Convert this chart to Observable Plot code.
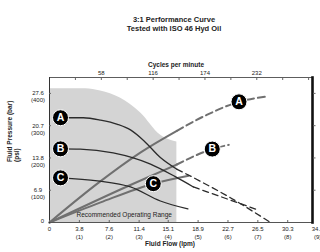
<!DOCTYPE html>
<html><head><meta charset="utf-8">
<script src="https://cdn.jsdelivr.net/npm/d3@7"></script>
<script src="https://cdn.jsdelivr.net/npm/@observablehq/plot@0.6"></script>
<style>body{margin:0;background:#fff}</style>
</head><body><div id="chart"></div>
<script>
// ---- data (flow in lpm, pressure in bar) ----
const flowTicks = [0, 3.8, 7.6, 11.4, 15.1, 18.9, 22.7, 26.5, 30.3, 34.1];
const gpmLabels = ["", "(1)", "(2)", "(3)", "(4)", "(5)", "(6)", "(7)", "(8)", "(9)"];
const barTicks = [6.9, 13.8, 20.7, 27.6];
const psiLabels = ["(100)", "(200)", "(300)", "(400)"];
const cpmTicks = [29, 58, 87, 116, 145, 174, 203, 232, 261, 290];
const cpmLabelTicks = [58, 116, 174, 232];
const cpmPerLpm = 8.8;
const flowMax = 33.45, barMax = 31;

// recommended operating range (upper boundary)
const rangeFlow = [0, 4.6, 6.5, 9.0, 11.6, 14.1, 15.4, 16.2];
const rangeBar  = [28.6, 28.6, 28.1, 26.6, 23.4, 18.7, 17.6, 17.2];
const rangeEdge = 16.2;

// pressure curves (black)
const aPresFlow = [1.4, 4.3, 6.5, 8.65, 10.3, 12.0, 14.1, 16.2];
const aPresBar  = [22.4, 22.4, 21.9, 21.0, 19.8, 17.5, 13.9, 11.4];
const aPresDashFlow = [16.2, 19.2, 23.0, 28.1];
const aPresDashBar  = [11.4, 8.8, 5.3, 0];
const bPresFlow = [1.4, 3.9, 8.1, 12.85, 16.0, 18.3];
const bPresBar  = [15.75, 15.7, 14.9, 12.5, 9.8, 7.6];
const bPresDashFlow = [18.3, 26.5];
const bPresDashBar  = [7.6, 2.7];
const cPresFlow = [1.4, 6.1, 10.3, 14.1, 17.6];
const cPresBar  = [9.55, 8.9, 7.6, 4.6, 2.9];

// grey lines from origin
const aGreyFlow = [0, 6, 11.6, 16.2];
const aGreyBar  = [0, 8.2, 15.0, 19.6];
const aGreyDashFlow = [16.2, 20, 24.1, 27.5];
const aGreyDashBar  = [19.6, 23.0, 25.8, 26.9];
const bGreyFlow = [0, 10, 16.2];
const bGreyBar  = [0, 7.8, 12.4];
const bGreyDashFlow = [16.2, 20.7, 22.8];
const bGreyDashBar  = [12.4, 15.7, 16.6];
const cGreyFlow = [0, 6.5, 13.2, 17.7];
const cGreyBar  = [0, 4.3, 8.3, 10.0];

// badges
const badgeLetters = ["A", "B", "C", "A", "B", "C"];
const badgeFlow = [1.4, 1.4, 1.4, 24.1, 20.7, 13.2];
const badgeBar  = [22.4, 15.75, 9.55, 25.8, 15.7, 8.3];

const zip = (xs, ys) => xs.map((x, i) => ({x, y: ys[i]}));
const range = zip(rangeFlow, rangeBar);
const badges = badgeLetters.map((l, i) => ({l, x: badgeFlow[i], y: badgeBar[i]}));
const flowIn = flowTicks.filter(d => d <= flowMax);

const dark = "#2b2b2b", grey = "#707070";
const lineOpts = (stroke, w, dash) => ({x: "x", y: "y", stroke, strokeWidth: w, strokeDasharray: dash, curve: "monotone-x"});

const chart = Plot.plot({
  width: 320, height: 252,
  marginTop: 77, marginBottom: 30, marginLeft: 49, marginRight: 8,
  x: {domain: [0, flowMax], axis: null},
  y: {domain: [0, barMax], axis: null},
  style: {fontFamily: "'Liberation Sans', Arial, sans-serif", fontSize: "6px", background: "#fff", color: "#222"},
  marks: [
    Plot.areaY(range, {x: "x", y: "y", fill: "#d4d4d4", curve: "monotone-x"}),
    Plot.text(["Recommended Operating Range"], {x: () => rangeEdge, frameAnchor: "bottom", textAnchor: "end", dx: -5, dy: -5.5, fontSize: 6.5, fill: "#222"}),
    // grey lines
    Plot.line(zip(aGreyFlow, aGreyBar), lineOpts(grey, 2)),
    Plot.line(zip(bGreyFlow, bGreyBar), lineOpts(grey, 2)),
    Plot.line(zip(cGreyFlow, cGreyBar), lineOpts(grey, 2)),
    Plot.line(zip(aGreyDashFlow, aGreyDashBar), lineOpts(grey, 2, "7,4")),
    Plot.line(zip(bGreyDashFlow, bGreyDashBar), lineOpts(grey, 2, "7,4")),
    // pressure curves
    Plot.line(zip(aPresFlow, aPresBar), lineOpts(dark, 1.3)),
    Plot.line(zip(bPresFlow, bPresBar), lineOpts(dark, 1.3)),
    Plot.line(zip(cPresFlow, cPresBar), lineOpts(dark, 1.3)),
    Plot.line(zip(aPresDashFlow, aPresDashBar), lineOpts(dark, 1.3, "6,4")),
    Plot.line(zip(bPresDashFlow, bPresDashBar), lineOpts(dark, 1.3, "6,4")),
    // frame
    Plot.frame({anchor: "top", stroke: "#333", strokeWidth: 0.8}),
    Plot.frame({anchor: "bottom", stroke: "#555", strokeWidth: 1}),
    Plot.frame({anchor: "left", stroke: "#333", strokeWidth: 1}),
    Plot.frame({anchor: "right", stroke: "#111", strokeWidth: 2.6}),
    Plot.axisX({anchor: "bottom", ticks: flowIn, tickSize: -2, tickFormat: () => "", label: null, stroke: "#666"}),
    Plot.axisY({anchor: "left", ticks: barTicks, tickSize: -2, tickFormat: () => "", label: null, stroke: "#666"}),
    Plot.axisY({anchor: "right", ticks: barTicks, tickSize: 2.5, tickFormat: () => "", label: null, stroke: "#666"}),
    Plot.axisX({anchor: "top", ticks: cpmTicks.map(d => d / cpmPerLpm), tickSize: -2, tickFormat: () => "", label: null, stroke: "#666"}),
    // tick labels
    Plot.text(flowTicks, {x: d => d, frameAnchor: "bottom", dy: 8.5, text: d => String(d), textAnchor: "middle"}),
    Plot.text(flowTicks, {x: d => d, frameAnchor: "bottom", dy: 16.5, text: (d, i) => gpmLabels[i], textAnchor: "middle"}),
    Plot.text(barTicks, {y: d => d, frameAnchor: "left", dx: -11.5, text: d => d.toFixed(1), textAnchor: "middle"}),
    Plot.text(barTicks, {y: d => d, frameAnchor: "left", dx: -11.5, dy: 7, text: (d, i) => psiLabels[i], textAnchor: "middle"}),
    Plot.text(["0"], {frameAnchor: "bottom-left", dx: -7, textAnchor: "middle"}),
    Plot.text(cpmLabelTicks, {x: d => d / cpmPerLpm, frameAnchor: "top", dy: -7, text: d => String(d), textAnchor: "middle"}),
    // titles
    Plot.text(["3:1 Performance Curve"], {frameAnchor: "top", dx: -7, dy: -61, fontSize: 7.5, fontWeight: "bold", fill: "#222"}),
    Plot.text(["Tested with ISO 46 Hyd Oil"], {frameAnchor: "top", dx: -7, dy: -52, fontSize: 7.5, fontWeight: "bold", fill: "#222"}),
    Plot.text(["Cycles per minute"], {frameAnchor: "top", dx: -5, dy: -15, fontSize: 6.5, fontWeight: "bold", fill: "#222"}),
    Plot.text(["Fluid Flow (lpm)"], {frameAnchor: "bottom", dx: -11, dy: 23, fontSize: 6.5, fontWeight: "bold", fill: "#222"}),
    Plot.text(["Fluid Pressure (bar)"], {frameAnchor: "left", dx: -40, dy: 12, rotate: -90, fontSize: 6.5, fontWeight: "bold", fill: "#222"}),
    Plot.text(["(psi)"], {frameAnchor: "left", dx: -33, dy: 12, rotate: -90, fontSize: 6.5, fontWeight: "bold", fill: "#222"}),
    // badges
    Plot.dot(badges, {x: "x", y: "y", r: 8, fill: "#000", stroke: "#fff", strokeWidth: 1}),
    Plot.text(badges, {x: "x", y: "y", text: "l", fill: "#fff", fontSize: 10.5, fontWeight: "bold"})
  ]
});
document.getElementById("chart").appendChild(chart);
</script></body></html>
